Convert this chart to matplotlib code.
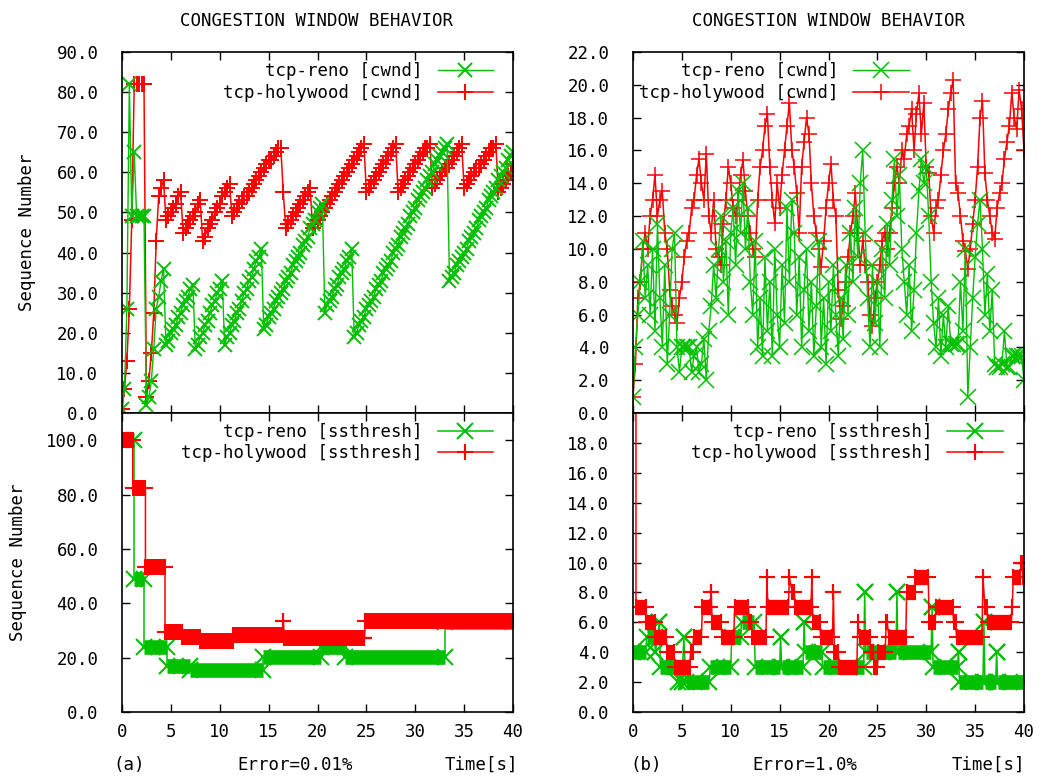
import numpy as np
import matplotlib.pyplot as plt
from matplotlib.ticker import FormatStrFormatter

plt.rcParams['font.family'] = 'DejaVu Sans Mono'
plt.rcParams['font.size'] = 12.5

GREEN = '#00c000'
RED = '#ff0000'
DT = 0.25

# ---- (a) Error=0.01%, cwnd ----
reno_cwnd_a = [
    1, 6, 26, 82, 49, 65, 49, 49,
    49, 49, 2, 4, 8, 16, 26, 29,
    33, 36, 17, 18, 20, 21, 22, 24,
    25, 27, 28, 29, 31, 32, 16, 17,
    19, 20, 22, 23, 25, 27, 28, 30,
    31, 33, 17, 19, 20, 22, 23, 25,
    26, 28, 30, 31, 33, 34, 36, 38,
    39, 41, 21, 22, 24, 25, 26, 28,
    29, 30, 31, 33, 34, 35, 37, 38,
    39, 40, 42, 43, 44, 46, 47, 48,
    50, 51, 52, 25, 27, 28, 29, 31,
    32, 34, 35, 36, 38, 39, 41, 19,
    20, 22, 23, 24, 26, 27, 28, 29,
    31, 32, 33, 35, 36, 37, 38, 40,
    41, 42, 44, 45, 46, 47, 49, 50,
    51, 53, 54, 55, 56, 58, 59, 60,
    62, 63, 64, 65, 66, 67, 33, 34,
    35, 37, 38, 39, 40, 41, 43, 44,
    45, 46, 48, 49, 50, 51, 53, 54,
    55, 56, 58, 59, 60, 61, 63, 64,
    65]
holy_cwnd_a = [
    1, 6, 13, 26, 48, 82, 82, 82,
    82, 82, 4, 8, 15, 25, 43, 54,
    56, 58, 48, 49, 50, 51, 52, 54,
    55, 45, 46, 47, 48, 49, 50, 52,
    53, 43, 44, 46, 47, 48, 50, 51,
    52, 54, 55, 56, 57, 49, 50, 51,
    52, 53, 54, 54, 55, 56, 57, 58,
    59, 60, 61, 62, 63, 63, 64, 65,
    66, 66, 55, 46, 47, 48, 49, 50,
    51, 52, 53, 54, 55, 56, 46, 47,
    48, 49, 50, 51, 52, 53, 54, 55,
    56, 57, 58, 59, 60, 61, 62, 63,
    64, 65, 66, 67, 55, 56, 57, 58,
    59, 60, 61, 62, 63, 64, 65, 66,
    67, 55, 56, 57, 58, 59, 60, 61,
    62, 63, 64, 65, 66, 66, 67, 56,
    57, 58, 59, 60, 61, 61, 62, 63,
    64, 65, 66, 67, 56, 57, 58, 59,
    60, 61, 61, 62, 63, 64, 65, 66,
    66, 67, 55, 56, 57, 58, 59, 60,
    62]

# ---- (b) Error=1.0%, cwnd ----
reno_cwnd_b = [
    1, 4, 6, 8, 10.5, 7, 9, 6,
    10, 5, 11.5, 7, 4, 9, 3, 6,
    10, 11, 4, 2.5, 4, 4, 4, 4,
    2.5, 3.5, 4, 2.5, 3, 4.5, 2, 5,
    6.5, 9, 7, 10, 12, 8, 10.5, 6,
    11, 12.5, 9, 13.5, 11, 14, 10, 12.5,
    8, 6, 10.5, 4, 7, 3.5, 9.5, 5,
    8, 3.5, 10, 6, 4, 9, 5.5, 12.5,
    8, 13, 11, 6, 9.5, 4, 7.5, 10,
    5, 8, 3.5, 6.5, 10.5, 4, 7, 3,
    8, 5, 9, 6, 3.5, 7, 4.5, 9,
    6, 11, 8, 12.5, 9.5, 14, 16, 11,
    7, 4, 9, 5.5, 8, 4, 10, 7,
    11.5, 9, 13, 15.5, 12, 14.5, 10, 8,
    6, 9, 5, 7.5, 11, 13.5, 15.5, 14,
    15, 12, 8, 5.5, 4, 7, 3.5, 6,
    4, 6.5, 4.2, 4.2, 4.2, 4.2, 8, 5,
    10, 1, 4, 7, 9.5, 11.5, 13, 10,
    6, 8.5, 5, 7.5, 3, 2.8, 2.8, 3,
    5, 2.8, 2.8, 3.5, 3.5, 3.5, 3.5, 3.5,
    2]
holy_cwnd_b = [
    1, 3, 7, 8, 10, 11, 10, 12,
    13, 14.5, 12, 13, 13.5, 11, 10, 7.5,
    6.5, 6, 5.5, 7, 8, 9.5, 10.5, 11,
    12.5, 13, 14.5, 15.5, 14, 13, 15.8, 12,
    11, 13, 10, 9.5, 9, 11.5, 13, 15,
    14, 12.5, 12, 13, 14.5, 15.4, 13.5, 12,
    11, 10, 9.5, 13, 15, 16, 17.5, 18.2,
    15, 13, 11.6, 14, 12.5, 14.5, 16, 17.5,
    18.9, 16, 15, 13.4, 11, 15, 16.5, 18,
    17, 14, 12, 11, 10, 8.9, 10.5, 12.5,
    14, 15.2, 13, 12, 7.5, 5.7, 6.5, 8,
    9.5, 11, 12, 13.4, 11, 9, 10.5, 9,
    8, 6, 5.3, 7, 8, 9, 10.5, 11,
    10, 11, 12.5, 14, 15, 14, 16, 15.5,
    17, 17.5, 18.5, 16, 18.2, 19.5, 17, 18.9,
    15, 14.6, 12, 11, 12.5, 13, 14.5, 16,
    17, 18.5, 19.5, 20.3, 14, 13.4, 12, 10.5,
    9.9, 8.8, 10, 11.5, 13, 15, 18, 19,
    14.6, 13, 12, 11, 10.6, 12.5, 13.4, 14,
    15.5, 16.5, 17.5, 19.5, 18, 17.3, 19.7, 18.5,
    16]

# ---- ssthresh: constant segments (start s, end s, value) ----
reno_ss_a_start = [0.0, 1.2, 2.3, 4.6, 7.0, 14.4, 20.4, 22.8, 33.0]
reno_ss_a_end = [1.2, 2.3, 4.6, 7.0, 14.4, 20.4, 22.8, 33.0, 40.0]
reno_ss_a_val = [100, 49, 24, 17, 15.5, 20.3, 24, 20.3, 33]

holy_ss_a_start = [0.0, 1.1, 2.4, 4.4, 6.1, 8.0, 11.4, 16.5, 16.6, 24.8, 24.9]
holy_ss_a_end = [1.1, 2.4, 4.4, 6.1, 8.0, 11.4, 16.5, 16.5, 24.8, 24.8, 40.0]
holy_ss_a_val = [100, 82.4, 53.4, 29.3, 27.5, 26.1, 28.2, 33.4, 27.3, 27.3, 33.4]

reno_ss_b_start = [0.0, 1.4, 2.3, 2.7, 2.8, 4.6, 5.2, 5.4, 7.9, 10.1, 11.1, 12.5,
                   15.1, 15.2, 17.5, 17.6, 19.4, 23.7, 23.8, 27.0, 27.1, 30.6,
                   30.7, 33.3, 33.4, 35.9, 36.0, 37.2, 37.3]
reno_ss_b_end = [1.3, 2.2, 2.3, 2.7, 4.5, 5.0, 5.2, 7.8, 10.0, 11.0, 12.4, 15.0,
                 15.1, 17.4, 17.5, 19.3, 23.6, 23.7, 26.9, 27.0, 30.5, 30.6,
                 33.2, 33.3, 35.8, 35.9, 37.1, 37.2, 40.0]
reno_ss_b_val = [4, 5, 4, 6, 3, 2, 5, 2, 3, 5, 6, 3,
                 5, 3, 6, 4, 3, 8, 4, 8, 4, 7,
                 3, 4, 2, 6, 2, 4, 2]

holy_ss_b_start = [0.0, 0.3, 1.3, 2.3, 3.5, 4.3, 5.9, 6.2, 7.1, 8.0, 8.1, 9.1,
                   10.4, 11.9, 12.2, 13.7, 13.8, 16.0, 16.3, 16.6, 18.3, 18.4,
                   19.2, 20.5, 20.6, 21.1, 23.0, 23.2, 24.3, 24.7, 25.1, 25.9,
                   26.2, 28.0, 28.9, 30.3, 31.0, 32.8, 33.1, 35.8, 36.0, 36.3,
                   38.8, 38.9, 39.7, 39.9]
holy_ss_b_end = [0.3, 1.3, 2.2, 3.4, 4.2, 5.8, 6.1, 7.0, 7.9, 8.0, 9.0, 10.3,
                 11.8, 12.1, 13.6, 13.7, 15.9, 16.0, 16.5, 18.2, 18.3, 19.1,
                 20.4, 20.5, 21.0, 22.9, 23.0, 24.2, 24.6, 25.0, 25.8, 26.0,
                 27.9, 28.8, 30.2, 30.9, 32.7, 33.0, 35.7, 35.8, 36.2, 38.7,
                 38.8, 39.6, 39.8, 40.0]
holy_ss_b_val = [100, 7, 6, 5, 4, 3, 4, 5, 7, 8, 6, 5,
                 7, 6, 5, 9, 7, 9, 8, 7, 9, 6,
                 5, 8, 4, 3, 6, 5, 4, 3, 4, 6,
                 5, 8, 9, 6, 7, 6, 5, 9, 7, 6,
                 7, 9, 10, 9]


def times(vals):
    return np.arange(len(vals)) * DT


def draw_cwnd(ax, reno, holy, tag, ms_x, ms_p, mew):
    lh, = ax.plot(times(holy), holy, color=RED, lw=1.1, marker='+', ms=ms_p,
                  mew=mew, label='tcp-holywood [%s]' % tag)
    lr, = ax.plot(times(reno), reno, color=GREEN, lw=1.0, marker='x', ms=ms_x,
                  mew=mew, label='tcp-reno [%s]' % tag)
    return lr, lh


def draw_ss(ax, starts, ends, vals, color, marker, ms, band, label):
    xs, ys = [], []
    for s, e, v in zip(starts, ends, vals):
        xs += [s, e]
        ys += [v, v]
    ax.hlines(vals, starts, ends, colors=color, lw=band)
    line, = ax.plot(xs, ys, color=color, lw=1.1, marker=marker, ms=ms,
                    mew=1.5, label=label)
    return line


def style(ax, ymax, ystep, ytop_tick, labels_x):
    ax.set_xlim(0, 40)
    ax.set_ylim(0, ymax)
    ax.set_xticks(np.arange(0, 41, 5))
    ax.set_yticks(np.arange(0, ytop_tick + 0.001, ystep))
    ax.yaxis.set_major_formatter(FormatStrFormatter('%.1f'))
    ax.tick_params(direction='in', length=6, width=1, top=True, right=True,
                   labelbottom=labels_x)
    ax.tick_params(axis='y', pad=17)
    ax.tick_params(axis='x', pad=8)
    for sp in ax.spines.values():
        sp.set_linewidth(1.2)


def legend(ax, handles, xa, ya):
    ax.legend(handles=handles, loc='upper right', bbox_to_anchor=(xa, ya),
              frameon=False, markerfirst=False, handlelength=3.2,
              handletextpad=0.85, labelspacing=0.2, borderpad=0,
              borderaxespad=0, numpoints=1)


fig = plt.figure(figsize=(10.49, 7.78), dpi=100)
W, H = 1049.0, 778.0
ax_a_top = fig.add_axes([122 / W, 1 - 413 / H, 391 / W, 361 / H])
ax_a_bot = fig.add_axes([122 / W, 1 - 712 / H, 391 / W, 299 / H])
ax_b_top = fig.add_axes([633 / W, 1 - 413 / H, 391 / W, 361 / H])
ax_b_bot = fig.add_axes([633 / W, 1 - 712 / H, 391 / W, 299 / H])

# (a) top
lr, lh = draw_cwnd(ax_a_top, reno_cwnd_a, holy_cwnd_a, 'cwnd', 10, 11, 1.4)
style(ax_a_top, 90, 10, 90, False)
legend(ax_a_top, [lr, lh], 0.949, 0.972)

# (a) bottom
lr = draw_ss(ax_a_bot, reno_ss_a_start, reno_ss_a_end, reno_ss_a_val,
             GREEN, 'x', 12, 10.5, 'tcp-reno [ssthresh]')
lh = draw_ss(ax_a_bot, holy_ss_a_start, holy_ss_a_end, holy_ss_a_val,
             RED, '+', 11, 11.5, 'tcp-holywood [ssthresh]')
style(ax_a_bot, 110, 20, 100, True)
legend(ax_a_bot, [lr, lh], 0.949, 0.967)

# (b) top
lr, lh = draw_cwnd(ax_b_top, reno_cwnd_b, holy_cwnd_b, 'cwnd', 11, 11.5, 1.1)
style(ax_b_top, 22, 2, 22, False)
legend(ax_b_top, [lr, lh], 0.706, 0.972)

# (b) bottom
lr = draw_ss(ax_b_bot, reno_ss_b_start, reno_ss_b_end, reno_ss_b_val,
             GREEN, 'x', 12, 10.5, 'tcp-reno [ssthresh]')
lh = draw_ss(ax_b_bot, holy_ss_b_start, holy_ss_b_end, holy_ss_b_val,
             RED, '+', 11, 11, 'tcp-holywood [ssthresh]')
style(ax_b_bot, 20, 2, 18, True)
legend(ax_b_bot, [lr, lh], 0.946, 0.967)

ax_a_top.set_ylabel('Sequence Number')
ax_a_top.yaxis.set_label_coords(-0.219, 0.5)
ax_a_bot.set_ylabel('Sequence Number')
ax_a_bot.yaxis.set_label_coords(-0.244, 0.5)

for cx in (317, 829):
    fig.text(cx / W, 1 - 21 / H, 'CONGESTION WINDOW BEHAVIOR',
             ha='center', va='center')

yb = 1 - 765 / H
fig.text(113 / W, yb, '(a)', ha='left', va='center')
fig.text(295 / W, yb, 'Error=0.01%', ha='center', va='center')
fig.text(518 / W, yb, 'Time[s]', ha='right', va='center')
fig.text(630 / W, yb, '(b)', ha='left', va='center')
fig.text(805 / W, yb, 'Error=1.0%', ha='center', va='center')
fig.text(1025 / W, yb, 'Time[s]', ha='right', va='center')

fig.savefig('out.png', dpi=100)
